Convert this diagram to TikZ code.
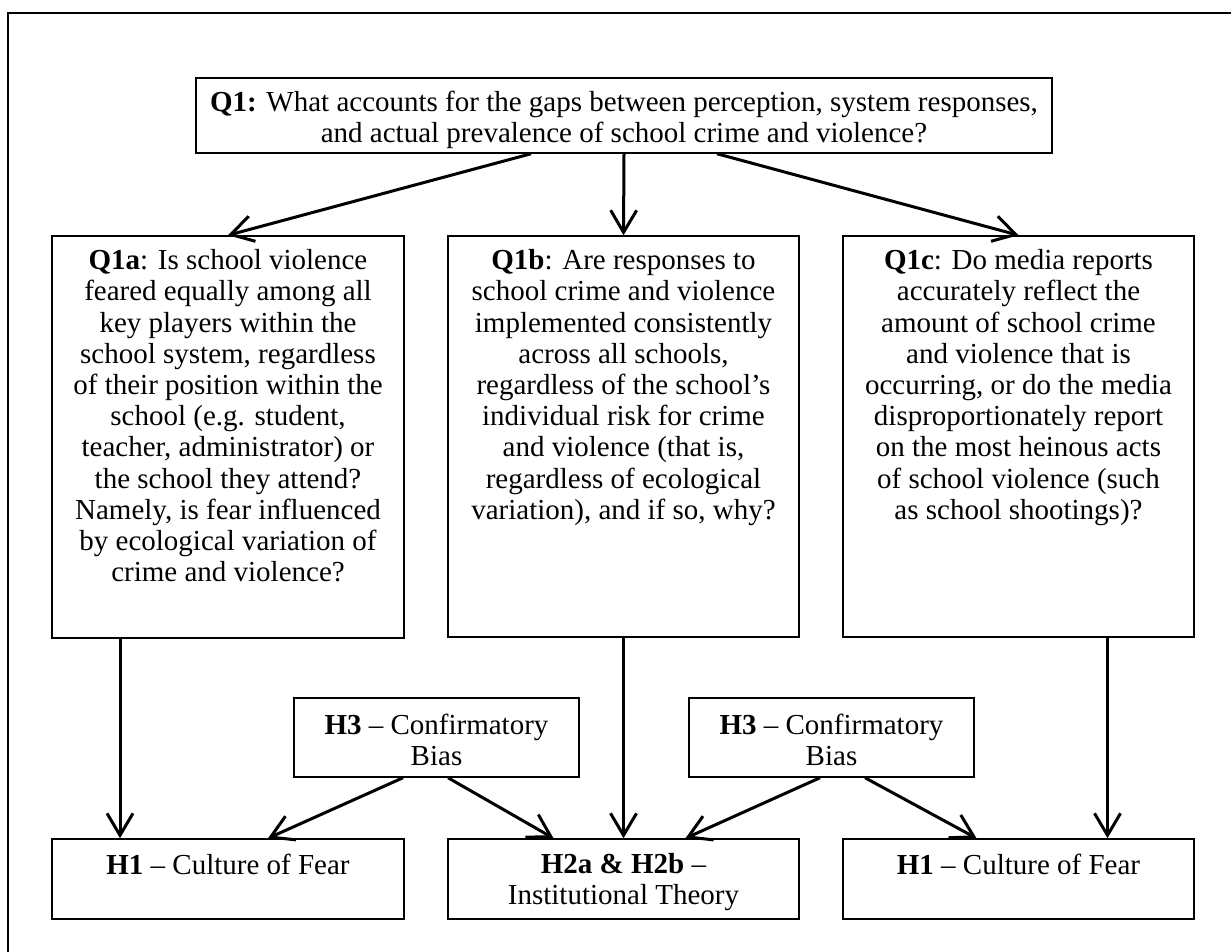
\documentclass[tikz,border=0pt]{standalone}
\usepackage{fontspec}
\setmainfont{Liberation Serif}
\usetikzlibrary{arrows.meta,calc}
\begin{document}
\begin{tikzpicture}[x=0.5pt,y=-0.5pt,
 box/.style={draw,line width=0.75pt,inner sep=0pt},
 txt/.style={align=center,inner sep=0pt,anchor=north,font=\fontsize{14.5}{15.6}\selectfont},
 arr/.style={line width=1.5pt,-{Straight Barb[length=11pt,width=13pt]}}]
\useasboundingbox (0,0) rectangle (1231,952);
\begin{scope}
\clip (0,0) rectangle (1231,952);
\draw[line width=1pt] (8,970) -- (8,13) -- (1250,13);
\end{scope}
% boxes
\node[box,minimum width=428pt,minimum height=37.5pt] (q1) at (624,115.5) {};
\node[box,minimum width=176pt,minimum height=201pt] (q1a) at (228,437) {};
\node[box,minimum width=175.5pt,minimum height=200.5pt] (q1b) at (623.5,436.5) {};
\node[box,minimum width=175.5pt,minimum height=200.5pt] (q1c) at (1018.5,436.5) {};
\node[box,minimum width=142.5pt,minimum height=39.5pt] (h3a) at (436.5,737.5) {};
\node[box,minimum width=142.5pt,minimum height=39.5pt] (h3b) at (831.5,737.5) {};
\node[box,minimum width=176pt,minimum height=40pt] (h1a) at (228,879) {};
\node[box,minimum width=175.5pt,minimum height=40pt] (h2) at (623.5,879) {};
\node[box,minimum width=175.5pt,minimum height=40pt] (h1b) at (1018.5,879) {};
% texts
\node[txt] (tq1) at ($(q1.north)+(0,13)$) {\textbf{Q1:} What accounts for the gaps between perception, system responses,\\and actual prevalence of school crime and violence?};
\node[txt] (tq1a) at ($(q1a.north)+(0,14)$) {\textbf{Q1a}: Is school violence\\feared equally among all\\key players within the\\school system, regardless\\of their position within the\\school (e.g. student,\\teacher, administrator) or\\the school they attend?\\Namely, is fear influenced\\by ecological variation of\\crime and violence?};
\node[txt] (tq1b) at ($(q1b.north)+(0,14)$) {\textbf{Q1b}: Are responses to\\school crime and violence\\implemented consistently\\across all schools,\\regardless of the school's\\individual risk for crime\\and violence (that is,\\regardless of ecological\\variation), and if so, why?};
\node[txt] (tq1c) at ($(q1c.north)+(0,14)$) {\textbf{Q1c}: Do media reports\\accurately reflect the\\amount of school crime\\and violence that is\\occurring, or do the media\\disproportionately report\\on the most heinous acts\\of school violence (such\\as school shootings)?};
\node[txt] (th3a) at ($(h3a.north)+(0,16)$) {\textbf{H3} -- Confirmatory\\Bias};
\node[txt] (th3b) at ($(h3b.north)+(0,16)$) {\textbf{H3} -- Confirmatory\\Bias};
\node[txt] (th1a) at ($(h1a.north)+(0,15)$) {\textbf{H1} -- Culture of Fear};
\node[txt] (th2) at ($(h2.north)+(0,15)$) {\textbf{H2a \& H2b} --\\Institutional Theory};
\node[txt] (th1b) at ($(h1b.north)+(0,15)$) {\textbf{H1} -- Culture of Fear};
% arrows
\draw[arr] ($(q1.south)+(-93,0)$) -- (q1a.north);
\draw[arr] (q1.south) -- (q1b.north);
\draw[arr] ($(q1.south)+(93,0)$) -- (q1c.north);
\draw[arr] ($(q1a.south)+(-108,0)$) -- ($(h1a.north)+(-108,0)$);
\draw[arr] (q1b.south) -- (h2.north);
\draw[arr] ($(q1c.south)+(89,0)$) -- ($(h1b.north)+(89,0)$);
\draw[arr] ($(h3a.south)+(-33.5,0)$) -- ($(h1a.north)+(40,0)$);
\draw[arr] ($(h3a.south)+(11.5,0)$) -- ($(h2.north)+(-70,0)$);
\draw[arr] ($(h3b.south)+(-11.5,0)$) -- ($(h2.north)+(62,0)$);
\draw[arr] ($(h3b.south)+(33.5,0)$) -- ($(h1b.north)+(-42,0)$);
\end{tikzpicture}
\end{document}
